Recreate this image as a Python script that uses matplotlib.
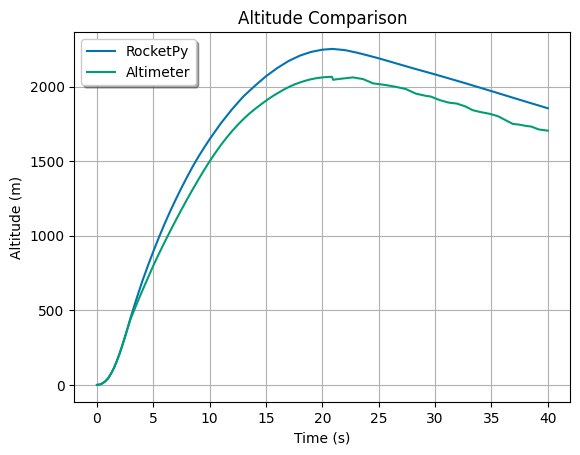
import matplotlib
matplotlib.use("Agg")
import matplotlib.pyplot as plt

# ===== DATA =====
rocketpy_time = [0, 0.25, 0.5, 0.75, 1.0, 1.25, 1.5, 1.75, 2.0, 2.25, 2.5,
                 2.75, 3.0, 3.5, 4.0, 4.5, 5.0, 5.5, 6.0, 6.5, 7.0, 7.5, 8.0,
                 8.5, 9.0, 9.5, 10, 11, 12, 13, 14, 15, 16, 17, 18, 19, 20,
                 20.9, 22, 23, 24, 25, 26, 27, 28, 30, 32.5, 35, 37.5, 40]
rocketpy_alt = [0, 3, 11, 25, 45, 76, 112, 158, 208, 265, 325, 390, 455, 575,
                690, 795, 895, 990, 1080, 1165, 1245, 1322, 1395, 1465, 1530,
                1590, 1648, 1755, 1850, 1935, 2005, 2070, 2125, 2172, 2208,
                2233, 2248, 2253, 2245, 2229, 2210, 2190, 2168, 2146, 2124,
                2082, 2027, 1970, 1912, 1855]

altimeter_time = [0, 0.25, 0.5, 0.75, 1.0, 1.25, 1.5, 1.75, 2.0, 2.25, 2.5,
                  2.75, 3.0, 3.31, 3.5, 4.0, 4.5, 5.0, 5.5, 6.0, 6.5, 7.0,
                  7.5, 8.0, 8.5, 9.0, 9.5, 10.0, 10.5, 11.0, 11.5, 12.0, 12.5,
                  13.0, 13.5, 14.0, 14.5, 15.0, 15.5, 16.0, 16.5, 17.0, 17.5,
                  18.0, 18.5, 19.0, 19.5, 20.0, 20.5, 20.85, 20.95, 21.4,
                  22.0, 22.7, 23.6, 24.5, 25.0, 25.6, 26.5, 27.4, 28.3, 29.2,
                  29.6, 30.4, 31.2, 31.9, 32.7, 33.3, 34.0, 34.9, 35.6, 36.2,
                  36.9, 37.5, 38.1, 38.5, 39.2, 40]
altimeter_alt = [0, 3, 11, 25, 45, 76, 112, 158, 208, 265, 325, 386, 445,
                 503, 538, 628, 714, 800, 880, 957, 1032, 1105, 1176, 1245,
                 1312, 1377, 1440, 1500, 1556, 1609, 1658, 1703, 1745, 1783,
                 1818, 1849, 1878, 1906, 1932, 1955, 1977, 1997, 2014, 2028,
                 2040, 2050, 2057, 2062, 2065, 2066, 2046, 2051, 2056, 2062,
                 2051, 2022, 2017, 2011, 1999, 1984, 1953, 1938, 1934, 1910,
                 1893, 1887, 1867, 1843, 1830, 1817, 1801, 1777, 1750, 1745,
                 1736, 1733, 1713, 1705]

# ===== PLOT =====
plt.figure()
plt.plot(rocketpy_time, rocketpy_alt, color="#0173B2", label="RocketPy")
plt.plot(altimeter_time, altimeter_alt, color="#029E73", label="Altimeter")
plt.xlabel("Time (s)")
plt.ylabel("Altitude (m)")
plt.title("Altitude Comparison")
plt.legend(loc="upper left", shadow=True)
plt.grid(True)

plt.savefig("out.png", bbox_inches="tight")
